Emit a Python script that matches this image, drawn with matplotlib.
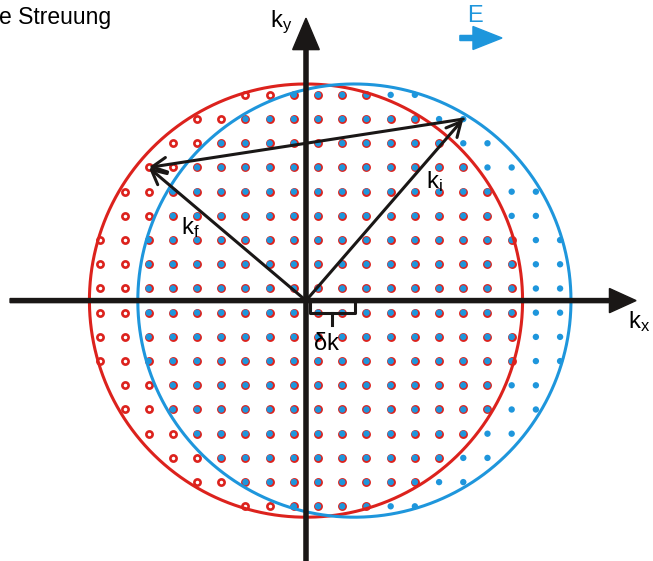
import numpy as np
import matplotlib.pyplot as plt

plt.rcParams['font.family'] = ['Liberation Sans', 'DejaVu Sans']
plt.rcParams['mathtext.fontset'] = 'custom'
plt.rcParams['mathtext.rm'] = 'Liberation Sans'
plt.rcParams['mathtext.it'] = 'Liberation Sans'

red = '#dc221d'
blue = '#1e96dc'
dark = '#1a1716'

# Fermi sphere in units of the k-grid spacing
radius = 8.95
dot_cut = 8.9
shift = 2.0          # displacement delta k along k_x
grid = np.arange(-9.5, 10.0, 1.0)
grid_x = np.arange(-9.5, 12.0, 1.0)

k_i = (6.5, 7.5)
k_f = (-6.5, 5.5)

fig = plt.figure(figsize=(6.53, 5.61), dpi=100)
ax = fig.add_axes([0, 0, 1, 1])
ax.set_xlim(-12.645, 14.34)
ax.set_ylim(-10.76, 12.42)
ax.axis('off')

# reciprocal lattice points inside the two spheres
gx, gy = np.meshgrid(grid_x, grid)
in_red = np.hypot(gx, gy) < dot_cut
in_blue = np.hypot(gx - shift, gy) < dot_cut
ax.scatter(gx[in_red], gy[in_red], s=20, facecolor='white', edgecolor=red,
           linewidth=1.9, zorder=2)
ax.scatter(gx[in_blue], gy[in_blue], s=21, facecolor=blue, edgecolor='none',
           zorder=3)

t = np.linspace(0, 2 * np.pi, 400)
ax.plot(radius * np.cos(t), radius * np.sin(t), color=red, lw=2.2, zorder=4)
ax.plot(shift + radius * np.cos(t), radius * np.sin(t), color=blue, lw=2.2,
        zorder=4)

# coordinate axes
ax.arrow(-12.23, 0, 25.87, 0, width=0.17, head_width=1.0, head_length=1.1,
         length_includes_head=True, color=dark, zorder=5)
ax.arrow(0, -11.0, 0, 22.67, width=0.17, head_width=1.1, head_length=1.3,
         length_includes_head=True, color=dark, zorder=5)

# scattering vectors
arrow_kw = dict(arrowstyle='->,head_length=0.7,head_width=0.35',
                color=dark, lw=2.2, shrinkA=0, shrinkB=0, mutation_scale=15)
ax.annotate('', xy=k_i, xytext=(0, 0), arrowprops=arrow_kw, zorder=6)
ax.annotate('', xy=k_f, xytext=(0, 0), arrowprops=arrow_kw, zorder=6)
ax.annotate('', xy=k_f, xytext=k_i, arrowprops=arrow_kw, zorder=6)

# delta k bracket
ax.plot([0.16, 0.16, 2.02, 2.02], [-0.1, -0.5, -0.5, -0.1], color=dark,
        lw=2.2, zorder=6)
ax.plot([1.06, 1.06], [-0.5, -1.0], color=dark, lw=2.2, zorder=6)

fs = 17
ax.text(0.3, -1.8, r'$\mathregular{\delta}$k', fontsize=fs, ha='left',
        va='center', zorder=7)
ax.text(-1.5, 11.5, r'$\mathregular{k_y}$', fontsize=fs, ha='left',
        va='center')
ax.text(13.3, -0.85, r'$\mathregular{k_x}$', fontsize=fs, ha='left',
        va='center')
ax.text(4.95, 4.9, r'$\mathregular{k_i}$', fontsize=fs, ha='left',
        va='center', zorder=7)
ax.text(-5.15, 3.0, r'$\mathregular{k_f}$', fontsize=fs, ha='left',
        va='center', zorder=7)

# external field
ax.text(6.65, 11.75, 'E', fontsize=fs, color=blue, ha='left', va='center')
ax.arrow(6.36, 10.85, 1.74, 0, width=0.21, head_width=0.95, head_length=1.2,
         length_includes_head=True, color=blue)

ax.text(-12.68, 11.7, 'e Streuung', fontsize=16.5, ha='left', va='center')

fig.savefig('out.png', dpi=100)
